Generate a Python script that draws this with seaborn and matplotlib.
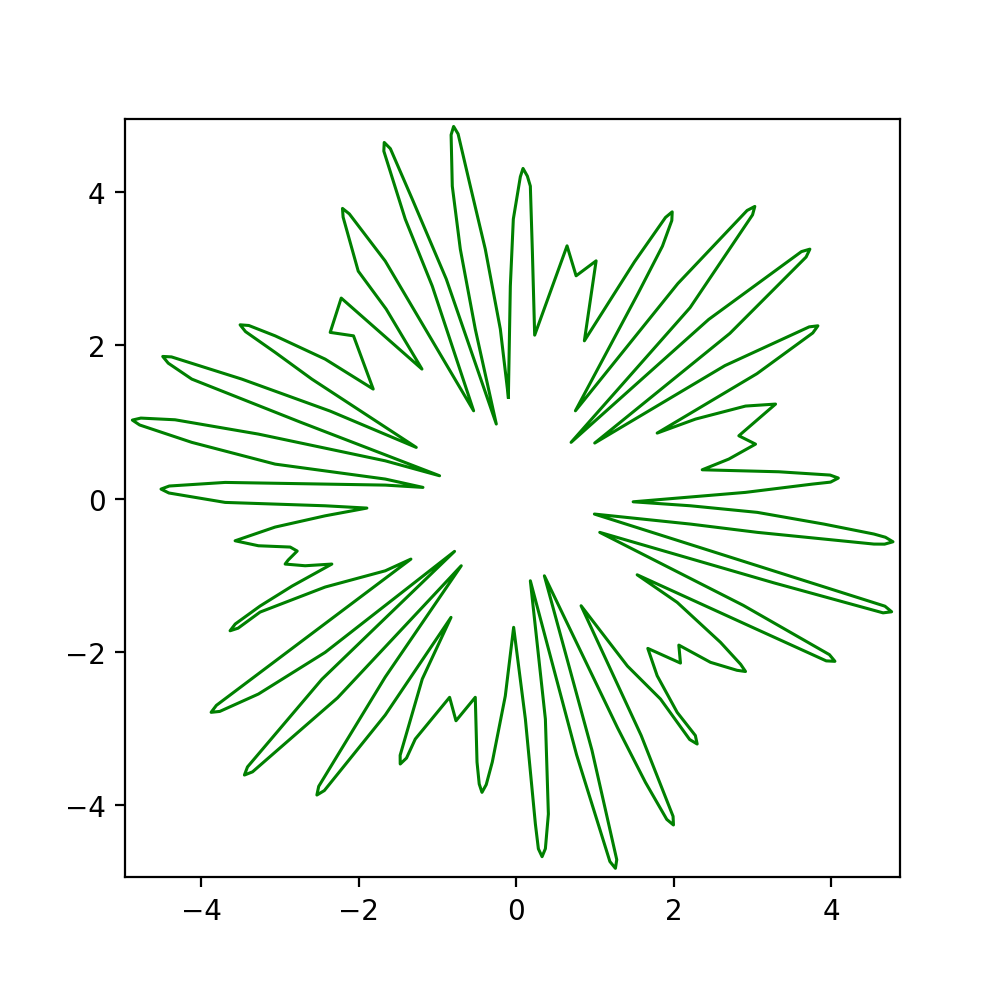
import matplotlib
matplotlib.use("Agg")
import matplotlib.pyplot as plt
import pandas as pd
import seaborn as sns

# curve, points in drawing order (data units)
# one line per petal / wiggle, x and y lines match
curve_x = [
    -0.100, -0.075, -0.037, 0.052, 0.086, 0.141, 0.179, 0.205, 0.234,
    0.645, 0.760, 1.014, 0.865,
    1.502, 1.895, 1.980, 1.975, 1.856, 1.545, 0.751,
    2.051, 2.931, 3.029, 3.000, 2.207, 0.696,
    2.443, 3.621, 3.728, 3.680, 2.712, 0.996,
    2.649, 3.719, 3.830, 3.765, 3.056, 1.789,
    2.276, 2.911, 3.292, 2.826, 3.038, 2.699, 2.361,
    3.334, 3.985, 4.089, 3.990, 3.759, 2.911, 1.484,
    2.212, 3.060, 3.906, 4.541, 4.687, 4.783, 4.676, 4.541, 3.906, 3.060, 2.212, 0.992,
    3.264, 4.681, 4.766, 4.657, 3.273, 1.060,
    2.882, 3.976, 4.046, 3.935, 3.032, 1.535,
    2.043, 2.593, 2.849, 2.911, 2.802, 2.466, 2.064, 2.085, 1.670,
    1.789, 2.043, 2.274, 2.297, 2.202, 1.831, 1.412, 0.823,
    1.586, 1.991, 1.996, 1.911, 1.640, 1.285, 0.357,
    0.961, 1.276, 1.259, 1.189, 0.766, 0.179,
    0.370, 0.408, 0.370, 0.328, 0.281, 0.243, 0.116, -0.033,
    -0.139, -0.304, -0.381, -0.435, -0.470, -0.498, -0.520, -0.765, -0.846,
    -1.282, -1.393, -1.473, -1.474, -1.193, -0.828,
    -1.663, -2.436, -2.531, -2.508, -1.663, -0.698,
    -2.269, -3.348, -3.451, -3.412, -2.468, -0.783,
    -2.426, -3.273, -3.764, -3.874, -3.807, -1.337,
    -1.663, -2.426, -3.252, -3.531, -3.633, -3.568, -3.252, -2.845, -2.341,
    -2.680, -2.934, -2.896, -2.781, -2.870, -3.273, -3.569, -3.061, -2.426, -1.896,
    -2.426, -3.696, -4.410, -4.510, -4.405, -3.696, -1.663, -1.184,
    -1.663, -3.061, -4.119, -4.781, -4.874, -4.766, -4.332, -3.273, -1.663, -0.973,
    -2.743, -4.119, -4.418, -4.488, -4.377, -3.484, -2.362, -1.269,
    -2.595, -3.061, -3.437, -3.506, -3.395, -3.061, -2.426, -1.816,
    -2.066, -2.362, -2.222, -1.197,
    -1.651, -2.006, -2.198, -2.206, -2.119, -1.905, -1.663, -0.541,
    -1.066, -1.409, -1.681, -1.676, -1.598, -1.320, -0.888, -0.253,
    -0.520, -0.710, -0.812, -0.827, -0.795, -0.738, -0.583, -0.393, -0.202, -0.100,
]
curve_y = [
    1.325, 2.774, 3.649, 4.202, 4.311, 4.211, 4.080, 3.218, 2.134,
    3.300, 2.909, 3.104, 2.060,
    3.093, 3.671, 3.744, 3.631, 3.296, 2.676, 1.146,
    2.807, 3.762, 3.815, 3.705, 2.493, 0.734,
    2.339, 3.225, 3.257, 3.154, 2.157, 0.725,
    1.736, 2.242, 2.256, 2.163, 1.631, 0.855,
    1.038, 1.208, 1.234, 0.820, 0.711, 0.516, 0.376,
    0.350, 0.307, 0.268, 0.215, 0.189, 0.081, -0.042,
    -0.094, -0.180, -0.333, -0.463, -0.505, -0.564, -0.595, -0.594, -0.529, -0.441, -0.333, -0.202,
    -0.943, -1.405, -1.478, -1.492, -1.101, -0.441,
    -1.394, -2.038, -2.125, -2.119, -1.697, -0.995,
    -1.355, -1.877, -2.164, -2.258, -2.242, -2.138, -1.913, -2.148, -1.956,
    -2.313, -2.791, -3.094, -3.205, -3.146, -2.617, -2.187, -1.399,
    -3.093, -4.149, -4.262, -4.189, -3.705, -2.991, -1.008,
    -3.285, -4.715, -4.828, -4.739, -3.345, -1.073,
    -2.879, -4.119, -4.571, -4.676, -4.573, -4.249, -2.879, -1.681,
    -2.578, -3.440, -3.735, -3.836, -3.727, -3.440, -2.595, -2.901, -2.595,
    -3.140, -3.388, -3.466, -3.352, -2.356, -1.551,
    -2.826, -3.812, -3.871, -3.758, -2.330, -0.877,
    -2.602, -3.568, -3.610, -3.504, -2.360, -0.689,
    -2.008, -2.552, -2.779, -2.791, -2.700, -0.790,
    -0.943, -1.155, -1.482, -1.692, -1.726, -1.638, -1.403, -1.142, -0.855,
    -0.877, -0.855, -0.803, -0.685, -0.633, -0.616, -0.551, -0.372, -0.225, -0.124,
    -0.094, -0.050, 0.073, 0.124, 0.164, 0.211, 0.176, 0.146,
    0.255, 0.450, 0.734, 0.961, 1.025, 1.051, 1.029, 0.842, 0.493, 0.298,
    0.999, 1.560, 1.768, 1.856, 1.850, 1.560, 1.142, 0.668,
    1.560, 1.909, 2.180, 2.269, 2.260, 2.125, 1.821, 1.430,
    2.125, 2.170, 2.618, 1.691,
    2.474, 2.970, 3.675, 3.789, 3.717, 3.427, 3.101, 1.146,
    2.774, 3.649, 4.537, 4.650, 4.569, 3.910, 2.866, 0.973,
    2.213, 3.257, 4.080, 4.749, 4.859, 4.761, 4.080, 3.257, 2.213, 1.325,
]

xticks = [-4, -2, 0, 2, 4]
yticks = [-4, -2, 0, 2, 4]

df = pd.DataFrame({"x": curve_x, "y": curve_y})

fig = plt.figure(figsize=(5, 5.02), dpi=200)
ax = fig.add_axes([0.125, 0.1252, 0.775, 0.7548])

sns.lineplot(data=df, x="x", y="y", sort=False, estimator=None,
             color="green", linewidth=1.1, ax=ax)

ax.set_xlim(-4.967, 4.872)
ax.set_ylim(-4.945, 4.95)
ax.set_xticks(xticks)
ax.set_yticks(yticks)
ax.set_xlabel("")
ax.set_ylabel("")

fig.savefig("out.png", dpi=200)
